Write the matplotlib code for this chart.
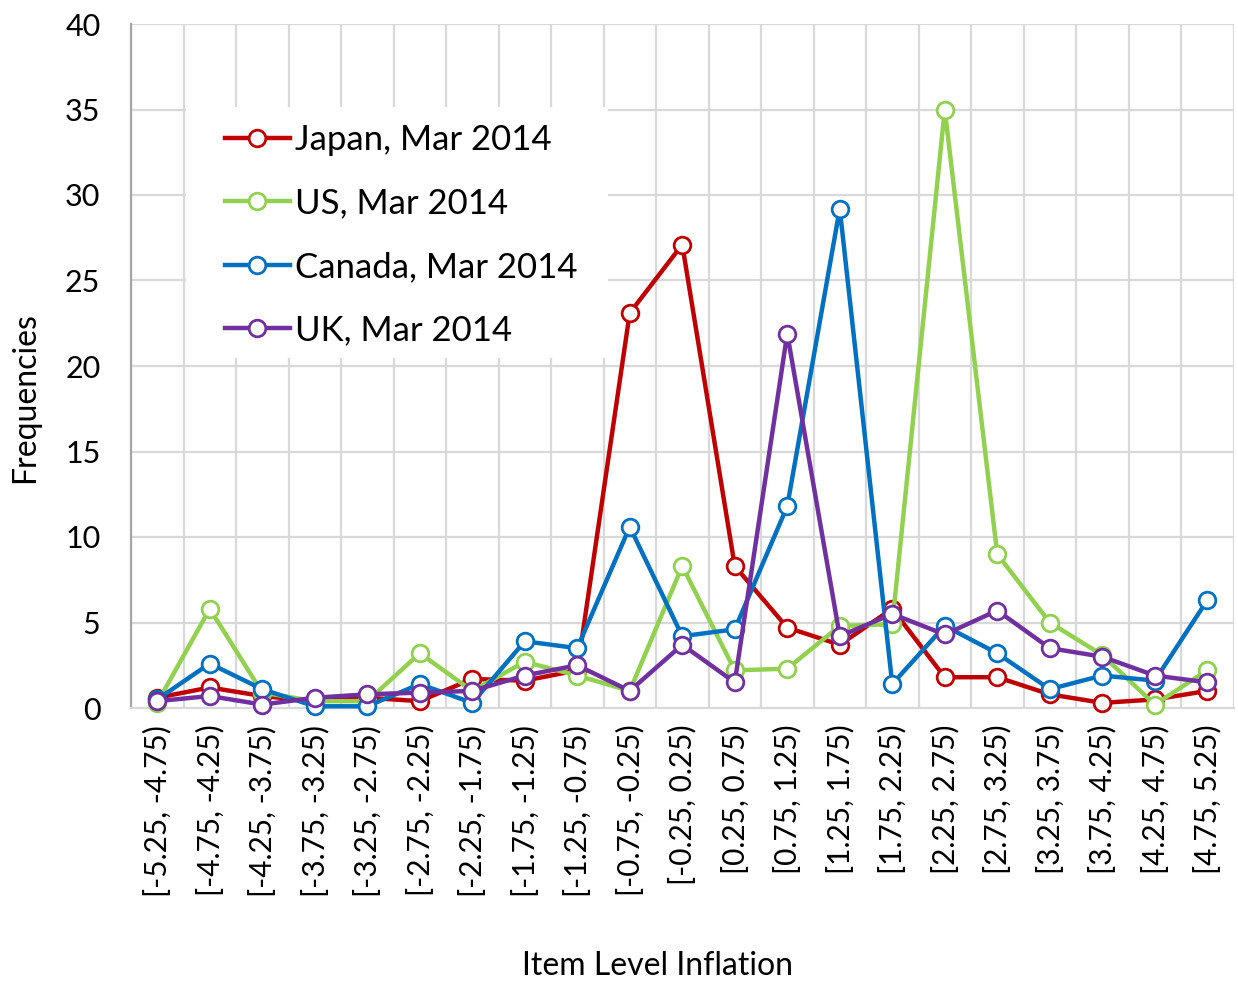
import matplotlib
matplotlib.use("Agg")
import matplotlib.pyplot as plt
from matplotlib.patches import Rectangle

categories = ["[-5.25, -4.75)", "[-4.75, -4.25)", "[-4.25, -3.75)", "[-3.75, -3.25)",
              "[-3.25, -2.75)", "[-2.75, -2.25)", "[-2.25, -1.75)", "[-1.75, -1.25)",
              "[-1.25, -0.75)", "[-0.75, -0.25)", "[-0.25, 0.25)", "[0.25, 0.75)",
              "[0.75, 1.25)", "[1.25, 1.75)", "[1.75, 2.25)", "[2.25, 2.75)",
              "[2.75, 3.25)", "[3.25, 3.75)", "[3.75, 4.25)", "[4.25, 4.75)", "[4.75, 5.25)"]

japan  = [0.6, 1.2, 0.7, 0.4, 0.6, 0.4, 1.7, 1.6, 2.2, 23.1, 27.1, 8.3, 4.7, 3.7, 5.8, 1.8, 1.8, 0.8, 0.3, 0.5, 1.0]
us     = [0.3, 5.8, 0.9, 0.4, 0.4, 3.2, 1.0, 2.7, 1.9, 1.0, 8.3, 2.2, 2.3, 4.8, 4.9, 35.0, 9.0, 5.0, 3.1, 0.2, 2.2]
canada = [0.5, 2.6, 1.1, 0.1, 0.1, 1.4, 0.3, 3.9, 3.5, 10.6, 4.2, 4.6, 11.8, 29.2, 1.4, 4.8, 3.2, 1.1, 1.9, 1.6, 6.3]
uk     = [0.4, 0.7, 0.2, 0.6, 0.8, 0.9, 1.0, 1.9, 2.5, 1.0, 3.7, 1.5, 21.9, 4.2, 5.5, 4.3, 5.7, 3.5, 3.0, 1.9, 1.5]

series = [("Japan, Mar 2014", japan, "#C00000"),
          ("US, Mar 2014", us, "#92D050"),
          ("Canada, Mar 2014", canada, "#0070C0"),
          ("UK, Mar 2014", uk, "#7030A0")]

W, H = 1238, 982
fig = plt.figure(figsize=(W / 100, H / 100), dpi=100)
ax = fig.add_axes([131 / W, 1 - 708 / H, (1233.5 - 131) / W, (708 - 24) / H])

x = list(range(len(categories)))
handles = []
for label, vals, col in series:
    h, = ax.plot(x, vals, color=col, lw=3.2, marker="o", markersize=12,
                 markerfacecolor="white", markeredgecolor=col, markeredgewidth=2.0,
                 label=label, zorder=3, clip_on=False)
    handles.append(h)

ax.set_xlim(-0.5, len(categories) - 0.5)
ax.set_ylim(0, 40)
ax.set_yticks(range(0, 41, 5))
ax.set_xticks(x)
ax.set_xticklabels(categories, rotation=90, family="Lato", fontsize=21.5,
                   va="top", ha="center")
ax.tick_params(axis="x", length=0, pad=12)
ax.tick_params(axis="y", length=0, pad=22, labelsize=22)
for t in ax.get_yticklabels():
    t.set_family("Lato")

# gridlines
grid_c = "#d9d9d9"
for yv in range(5, 41, 5):
    ax.axhline(yv, color=grid_c, lw=1.6, zorder=0)
for xv in range(len(categories) + 1):
    ax.axvline(xv - 0.5, color=grid_c, lw=1.6, zorder=0)

for s in ["top", "right"]:
    ax.spines[s].set_visible(False)
ax.spines["left"].set_color("#a6a6a6")
ax.spines["left"].set_linewidth(1.6)
ax.spines["bottom"].set_color(grid_c)
ax.spines["bottom"].set_linewidth(1.6)

# legend background
ax.add_patch(Rectangle(((186 - 131) / 1102.5, (708 - 358) / 684),
                       (608 - 186) / 1102.5, (358 - 107) / 684,
                       transform=ax.transAxes, facecolor="white", edgecolor="none", zorder=1))

leg = fig.legend(handles=handles, loc="upper left", bbox_to_anchor=(208 / W, 1 - 107 / H),
                 frameon=False, borderpad=0, handlelength=1.85, handletextpad=0.15,
                 labelspacing=0.9, prop={"family": "Lato", "size": 25})

ax.set_ylabel("Frequencies", family="Lato", fontsize=23)
ax.yaxis.set_label_coords((25 - 131) / 1102.5, (708 - 398) / 684)
ax.yaxis.label.set_va("center")
ax.set_xlabel("Item Level Inflation", family="Lato", fontsize=23)
ax.xaxis.set_label_coords((657 - 131) / 1102.5, (708 - 966) / 684)
ax.xaxis.label.set_va("center")

fig.savefig("out.png", dpi=100, facecolor="white")
